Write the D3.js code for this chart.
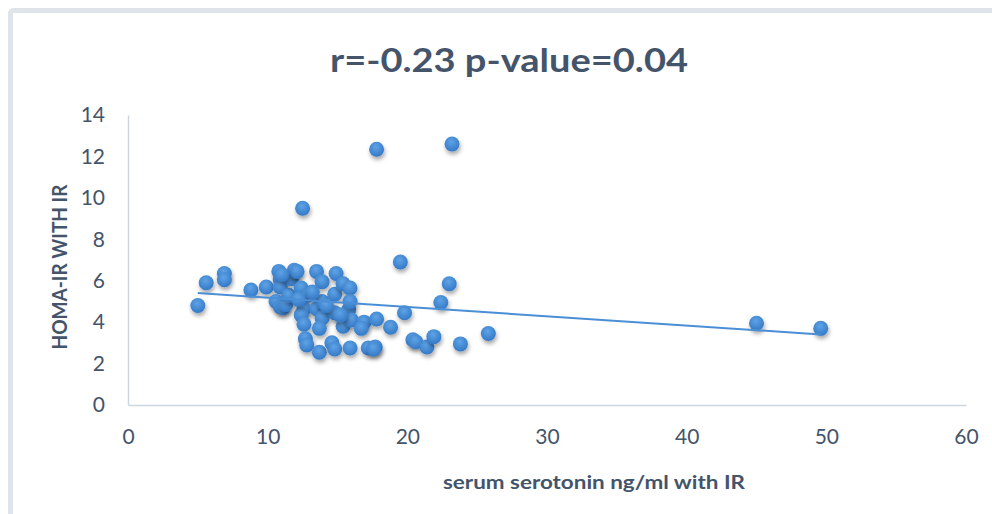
<!DOCTYPE html>
<html>
<head>
  <meta charset="utf-8">
  <title>serotonin vs HOMA-IR</title>
  <style>
    body { margin: 0; background: #fff; }
    text { font-family: Lato, "Open Sans", sans-serif; }
  </style>
</head>
<body>
  <div id="chart"></div>
  <script src="https://cdn.jsdelivr.net/npm/d3@7/dist/d3.min.js"></script>
  <script type="text/javascript">
    // serum serotonin (ng/ml) vs HOMA-IR
    var serotonin = [5.0, 5.6, 6.9, 6.9, 8.8, 9.9, 10.8, 10.9, 10.9, 10.6, 10.9, 11.1, 11.3, 11.5, 11.7,
      11.9, 12.1, 12.4, 12.5, 12.9, 12.6, 12.4, 12.6, 12.7, 12.8, 13.5, 13.5, 13.9, 13.9, 13.9,
      13.7, 13.7, 14.6, 14.8, 14.8, 14.8, 14.9, 15.4, 15.4, 15.8, 15.9, 15.9, 16.0, 15.9, 16.9,
      16.7, 17.2, 17.7, 17.6, 17.8, 17.8, 18.8, 19.5, 19.8, 20.4, 20.6, 21.4, 21.9, 22.4, 23.0,
      23.2, 23.8, 25.8, 45.0, 49.6, 11.0, 13.2, 14.2, 15.2, 12.2];
    var homaIR = [4.8, 5.9, 6.35, 6.05, 5.55, 5.7, 6.45, 6.05, 5.7, 5.0, 4.75, 4.7, 4.85, 5.3, 6.1,
      6.5, 6.45, 5.65, 9.5, 5.3, 4.65, 4.35, 3.9, 3.2, 2.9, 6.45, 4.65, 5.95, 5.0, 4.2,
      3.7, 2.55, 3.0, 2.7, 5.35, 4.45, 6.35, 5.85, 3.8, 4.6, 5.65, 5.0, 4.1, 2.75, 4.0,
      3.7, 2.75, 2.8, 2.7, 4.15, 12.35, 3.75, 6.9, 4.45, 3.15, 3.05, 2.8, 3.3, 4.95, 5.85,
      12.6, 2.95, 3.45, 3.95, 3.7, 6.3, 5.45, 4.8, 4.35, 5.1];
    var xTicks = [0, 10, 20, 30, 40, 50, 60];
    var yTicks = [0, 2, 4, 6, 8, 10, 12, 14];
    var title = "r=-0.23 p-value=0.04";

    var w = 992;
    var h = 514;
    var mLeft = 128, mRight = 966, mTop = 115, mBottom = 405;

    var svg = d3.select("#chart")
      .append("svg")
      .attr("width", w)
      .attr("height", h);

    var defs = svg.append("defs");
    var grad = defs.append("radialGradient")
      .attr("id", "ball")
      .attr("cx", "45%").attr("cy", "35%").attr("r", "65%");
    grad.append("stop").attr("offset", "0%").attr("stop-color", "#5fa3e6");
    grad.append("stop").attr("offset", "100%").attr("stop-color", "#3479c6");
    var shadow = defs.append("filter")
      .attr("id", "shadow")
      .attr("x", "-50%").attr("y", "-50%").attr("width", "200%").attr("height", "220%");
    shadow.append("feDropShadow")
      .attr("dx", 1).attr("dy", 3)
      .attr("stdDeviation", 2)
      .attr("flood-color", "#000")
      .attr("flood-opacity", 0.35);

    // chart frame
    svg.append("rect")
      .attr("x", 10.5).attr("y", 10.5)
      .attr("width", w + 20).attr("height", h + 20)
      .attr("rx", 3)
      .attr("fill", "#fff")
      .attr("stroke", "#dfe4ea")
      .attr("stroke-width", 5);

    var x = d3.scaleLinear().domain([0, 60]).range([mLeft, mRight]);
    var y = d3.scaleLinear().domain([0, 14]).range([mBottom, mTop]);

    var xAxis = svg.append("g")
      .attr("transform", "translate(0," + mBottom + ")")
      .call(d3.axisBottom(x).tickValues(xTicks).tickSize(0).tickPadding(24));
    var yAxis = svg.append("g")
      .attr("transform", "translate(" + mLeft + ",0)")
      .call(d3.axisLeft(y).tickValues(yTicks).tickSize(0).tickPadding(23));

    [xAxis, yAxis].forEach(function(a) {
      a.select(".domain").attr("stroke", "#cdd5df").attr("stroke-width", 1.5);
      a.selectAll("text")
        .attr("fill", "#44546a")
        .style("font-size", "21px")
        .style("font-family", "Lato, 'Open Sans', sans-serif");
    });

    var pts = serotonin.map(function(d, i) { return { x: d, y: homaIR[i] }; });

    svg.append("g")
      .selectAll("circle")
      .data(pts)
      .enter()
      .append("circle")
      .attr("cx", function(d) { return x(d.x); })
      .attr("cy", function(d) { return y(d.y); })
      .attr("r", 7.5)
      .attr("fill", "url(#ball)")
      .attr("filter", "url(#shadow)");

    // linear trendline (least squares)
    var mx = d3.mean(serotonin), my = d3.mean(homaIR);
    var sxy = d3.sum(pts, function(d) { return (d.x - mx) * (d.y - my); });
    var sxx = d3.sum(pts, function(d) { return (d.x - mx) * (d.x - mx); });
    var slope = sxy / sxx, icpt = my - slope * mx;
    var ext = d3.extent(serotonin);
    svg.append("line")
      .attr("x1", x(ext[0])).attr("y1", y(icpt + slope * ext[0]))
      .attr("x2", x(ext[1])).attr("y2", y(icpt + slope * ext[1]))
      .attr("stroke", "#4a8fd6")
      .attr("stroke-width", 2);

    svg.append("text")
      .attr("x", 509).attr("y", 72)
      .attr("text-anchor", "middle")
      .attr("fill", "#44546a")
      .attr("textLength", 358)
      .attr("lengthAdjust", "spacingAndGlyphs")
      .style("font-size", "32px")
      .style("font-weight", "bold")
      .text(title);

    svg.append("text")
      .attr("x", 594).attr("y", 489)
      .attr("text-anchor", "middle")
      .attr("fill", "#44546a")
      .attr("textLength", 302)
      .attr("lengthAdjust", "spacingAndGlyphs")
      .style("font-size", "19px")
      .style("font-weight", "bold")
      .text("serum serotonin ng/ml with IR");

    svg.append("text")
      .attr("transform", "translate(67,267) rotate(-90)")
      .attr("text-anchor", "middle")
      .attr("fill", "#44546a")
      .attr("textLength", 165)
      .attr("lengthAdjust", "spacingAndGlyphs")
      .style("font-size", "20px")
      .style("font-weight", "bold")
      .text("HOMA-IR WITH IR");
  </script>
</body>
</html>
